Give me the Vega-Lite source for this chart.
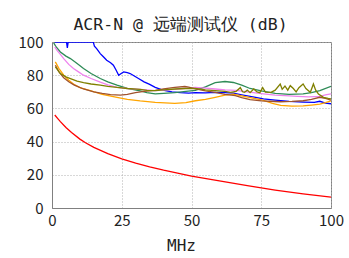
{
  "$schema": "https://vega.github.io/schema/vega-lite/v6.json",
  "autosize": {"type": "none"},
  "width": 279,
  "height": 166,
  "padding": {"left": 52, "top": 42, "right": 18, "bottom": 50},
  "background": "white",
  "title": {"text": "ACR-N @ 远端测试仪 (dB)", "font": "DejaVu Sans Mono", "fontSize": 16.5, "fontWeight": "normal", "color": "#222", "offset": 2, "dx": -11},
  "datasets": {
    "d": [
      {"s":"12-36","x":1,"y":100},{"s":"12-36","x":3,"y":100},{"s":"12-36","x":5.2,"y":100},{"s":"12-36","x":5.5,"y":96.5},{"s":"12-36","x":5.8,"y":100},{"s":"12-36","x":10,"y":100},{"s":"12-36","x":14.8,"y":100},{"s":"12-36","x":15.2,"y":97.5},{"s":"12-36","x":16,"y":96},{"s":"12-36","x":17.3,"y":93},{"s":"12-36","x":18.5,"y":91},{"s":"12-36","x":19.6,"y":89},{"s":"12-36","x":21,"y":87.5},{"s":"12-36","x":22,"y":86},{"s":"12-36","x":23,"y":83},{"s":"12-36","x":23.9,"y":80},{"s":"12-36","x":24.8,"y":81},{"s":"12-36","x":25.7,"y":82},{"s":"12-36","x":27,"y":81.5},{"s":"12-36","x":28,"y":81},{"s":"12-36","x":29.5,"y":79.5},{"s":"12-36","x":31,"y":78},{"s":"12-36","x":33,"y":76},{"s":"12-36","x":35,"y":74.5},{"s":"12-36","x":37,"y":72.7},{"s":"12-36","x":39,"y":71.5},{"s":"12-36","x":40.6,"y":70.7},{"s":"12-36","x":43,"y":70},{"s":"12-36","x":46,"y":69.5},{"s":"12-36","x":49,"y":69.2},{"s":"12-36","x":51.4,"y":69.5},{"s":"12-36","x":55,"y":69.4},{"s":"12-36","x":58.5,"y":69.7},{"s":"12-36","x":62,"y":69.5},{"s":"12-36","x":65,"y":69.2},{"s":"12-36","x":68,"y":68.2},{"s":"12-36","x":72,"y":67},{"s":"12-36","x":75.8,"y":65.8},{"s":"12-36","x":80,"y":65},{"s":"12-36","x":85,"y":64.2},{"s":"12-36","x":90,"y":63.8},{"s":"12-36","x":94,"y":63.6},{"s":"12-36","x":96,"y":64.3},{"s":"12-36","x":98,"y":63.2},{"s":"12-36","x":100,"y":62.8},
      {"s":"12-45","x":0.6,"y":99.5},{"s":"12-45","x":1.5,"y":97},{"s":"12-45","x":3,"y":94},{"s":"12-45","x":5,"y":91.5},{"s":"12-45","x":6.6,"y":90},{"s":"12-45","x":9,"y":87},{"s":"12-45","x":11.3,"y":84},{"s":"12-45","x":14,"y":81},{"s":"12-45","x":17.3,"y":78},{"s":"12-45","x":20,"y":76},{"s":"12-45","x":23.3,"y":74},{"s":"12-45","x":27,"y":72},{"s":"12-45","x":31.6,"y":70.5},{"s":"12-45","x":34,"y":69.5},{"s":"12-45","x":37,"y":68.7},{"s":"12-45","x":40,"y":69},{"s":"12-45","x":44,"y":69.5},{"s":"12-45","x":48,"y":70.2},{"s":"12-45","x":51.4,"y":70.8},{"s":"12-45","x":55,"y":73},{"s":"12-45","x":58.5,"y":75.5},{"s":"12-45","x":62,"y":76.2},{"s":"12-45","x":65,"y":75.6},{"s":"12-45","x":68,"y":74},{"s":"12-45","x":71,"y":72},{"s":"12-45","x":75,"y":70.5},{"s":"12-45","x":80,"y":69},{"s":"12-45","x":85,"y":68.5},{"s":"12-45","x":90,"y":68.7},{"s":"12-45","x":93,"y":69.5},{"s":"12-45","x":96,"y":70.7},{"s":"12-45","x":100,"y":73.3},
      {"s":"12-78","x":1,"y":97},{"s":"12-78","x":1.8,"y":95},{"s":"12-78","x":3,"y":92.5},{"s":"12-78","x":4.2,"y":90},{"s":"12-78","x":6,"y":86.5},{"s":"12-78","x":7.7,"y":84},{"s":"12-78","x":9.5,"y":82},{"s":"12-78","x":11.3,"y":80},{"s":"12-78","x":14,"y":78},{"s":"12-78","x":17.3,"y":75.8},{"s":"12-78","x":20,"y":74.2},{"s":"12-78","x":23.3,"y":72.7},{"s":"12-78","x":27,"y":72},{"s":"12-78","x":31.6,"y":71.5},{"s":"12-78","x":37,"y":70.7},{"s":"12-78","x":44,"y":71.5},{"s":"12-78","x":51.4,"y":72.7},{"s":"12-78","x":55,"y":72.2},{"s":"12-78","x":58.5,"y":71.7},{"s":"12-78","x":62,"y":71.2},{"s":"12-78","x":66,"y":70.8},{"s":"12-78","x":70,"y":70},{"s":"12-78","x":75.8,"y":68.8},{"s":"12-78","x":80,"y":68},{"s":"12-78","x":85,"y":67.5},{"s":"12-78","x":88,"y":67.3},{"s":"12-78","x":92,"y":67},{"s":"12-78","x":96,"y":67.3},{"s":"12-78","x":98,"y":68.2},{"s":"12-78","x":100,"y":68.7},
      {"s":"36-45","x":1.2,"y":88},{"s":"36-45","x":2.5,"y":84},{"s":"36-45","x":4.2,"y":80},{"s":"36-45","x":6,"y":77},{"s":"36-45","x":7.7,"y":74.7},{"s":"36-45","x":10,"y":72.5},{"s":"36-45","x":13.7,"y":70.7},{"s":"36-45","x":18,"y":68.5},{"s":"36-45","x":23.3,"y":66.7},{"s":"36-45","x":27,"y":65.5},{"s":"36-45","x":31.6,"y":64.5},{"s":"36-45","x":37,"y":63.6},{"s":"36-45","x":44,"y":63},{"s":"36-45","x":48,"y":63.5},{"s":"36-45","x":51.4,"y":64.6},{"s":"36-45","x":55,"y":65.5},{"s":"36-45","x":58.5,"y":66.7},{"s":"36-45","x":62,"y":68},{"s":"36-45","x":65,"y":68.6},{"s":"36-45","x":68,"y":67.6},{"s":"36-45","x":72,"y":66.2},{"s":"36-45","x":75.8,"y":64.8},{"s":"36-45","x":79,"y":63},{"s":"36-45","x":82,"y":61.8},{"s":"36-45","x":86,"y":61.4},{"s":"36-45","x":90,"y":61.5},{"s":"36-45","x":93,"y":62},{"s":"36-45","x":96,"y":62.6},{"s":"36-45","x":98,"y":63.5},{"s":"36-45","x":100,"y":64.5},
      {"s":"36-78","x":1.2,"y":86},{"s":"36-78","x":2.5,"y":82},{"s":"36-78","x":4.2,"y":78.5},{"s":"36-78","x":6,"y":76},{"s":"36-78","x":8,"y":74},{"s":"36-78","x":11.3,"y":71.7},{"s":"36-78","x":15,"y":70},{"s":"36-78","x":18,"y":69},{"s":"36-78","x":21,"y":68.3},{"s":"36-78","x":24.5,"y":68},{"s":"36-78","x":27,"y":68.5},{"s":"36-78","x":29.9,"y":69.5},{"s":"36-78","x":33,"y":70.2},{"s":"36-78","x":37,"y":70.8},{"s":"36-78","x":40,"y":71.8},{"s":"36-78","x":44,"y":72.7},{"s":"36-78","x":47.6,"y":73.2},{"s":"36-78","x":49,"y":72.8},{"s":"36-78","x":51.4,"y":71.7},{"s":"36-78","x":55,"y":70.5},{"s":"36-78","x":58.5,"y":69.7},{"s":"36-78","x":62,"y":68.5},{"s":"36-78","x":65.7,"y":67.7},{"s":"36-78","x":68,"y":66.5},{"s":"36-78","x":71,"y":65.3},{"s":"36-78","x":75,"y":64.5},{"s":"36-78","x":78,"y":64.3},{"s":"36-78","x":81.8,"y":64},{"s":"36-78","x":86,"y":64.2},{"s":"36-78","x":90,"y":64.6},{"s":"36-78","x":93,"y":65.5},{"s":"36-78","x":96,"y":66.7},{"s":"36-78","x":98,"y":66},{"s":"36-78","x":100,"y":65},
      {"s":"45-78","x":1.2,"y":85},{"s":"45-78","x":3,"y":81},{"s":"45-78","x":5,"y":79},{"s":"45-78","x":6.6,"y":78},{"s":"45-78","x":9,"y":76.5},{"s":"45-78","x":11.3,"y":75.5},{"s":"45-78","x":14,"y":74.7},{"s":"45-78","x":17.3,"y":74},{"s":"45-78","x":20,"y":73.3},{"s":"45-78","x":23.3,"y":72.7},{"s":"45-78","x":27,"y":72},{"s":"45-78","x":31.6,"y":71.5},{"s":"45-78","x":34,"y":70.8},{"s":"45-78","x":37,"y":70.7},{"s":"45-78","x":40,"y":71.2},{"s":"45-78","x":44,"y":71.7},{"s":"45-78","x":48,"y":72},{"s":"45-78","x":51.4,"y":72},{"s":"45-78","x":55,"y":71.2},{"s":"45-78","x":58.5,"y":70.7},{"s":"45-78","x":62,"y":70.2},{"s":"45-78","x":64,"y":69.7},{"s":"45-78","x":66,"y":70.3},{"s":"45-78","x":67.5,"y":72.5},{"s":"45-78","x":68.3,"y":70},{"s":"45-78","x":69,"y":69.7},{"s":"45-78","x":70,"y":71},{"s":"45-78","x":71,"y":69.5},{"s":"45-78","x":72.3,"y":71.7},{"s":"45-78","x":73.5,"y":70},{"s":"45-78","x":74.5,"y":69.5},{"s":"45-78","x":75.5,"y":72.5},{"s":"45-78","x":76.5,"y":69.8},{"s":"45-78","x":78.5,"y":69.7},{"s":"45-78","x":80,"y":71},{"s":"45-78","x":81.8,"y":74.7},{"s":"45-78","x":82.5,"y":71.5},{"s":"45-78","x":83.5,"y":73.5},{"s":"45-78","x":84.5,"y":71},{"s":"45-78","x":85.4,"y":73.7},{"s":"45-78","x":86.5,"y":72},{"s":"45-78","x":87.5,"y":70},{"s":"45-78","x":88.5,"y":72.5},{"s":"45-78","x":90,"y":74.7},{"s":"45-78","x":91,"y":72},{"s":"45-78","x":92.6,"y":69.7},{"s":"45-78","x":93.7,"y":74.7},{"s":"45-78","x":94.5,"y":71},{"s":"45-78","x":95.5,"y":68.7},{"s":"45-78","x":97.3,"y":66.7},{"s":"45-78","x":99,"y":66},{"s":"45-78","x":100,"y":65.7},
      {"s":"limit","x":1,"y":56},{"s":"limit","x":2,"y":54},{"s":"limit","x":3,"y":52},{"s":"limit","x":5,"y":48.5},{"s":"limit","x":7,"y":45.5},{"s":"limit","x":10,"y":41.5},{"s":"limit","x":12,"y":39.3},{"s":"limit","x":15,"y":36.5},{"s":"limit","x":20,"y":32.8},{"s":"limit","x":25,"y":29.6},{"s":"limit","x":30,"y":27},{"s":"limit","x":35,"y":24.8},{"s":"limit","x":40,"y":22.8},{"s":"limit","x":45,"y":21},{"s":"limit","x":50,"y":19.2},{"s":"limit","x":60,"y":16.3},{"s":"limit","x":70,"y":13.5},{"s":"limit","x":75,"y":12.1},{"s":"limit","x":80,"y":10.8},{"s":"limit","x":90,"y":8.5},{"s":"limit","x":100,"y":6.5}
    ]
  },
  "data": {"name": "d"},
  "mark": {"type": "line", "strokeWidth": 1.3, "clip": true, "interpolate": "linear"},
  "encoding": {
    "x": {"field": "x", "type": "quantitative", "scale": {"domain": [0, 100], "nice": false}, "title": "MHz",
      "axis": {"values": [0, 25, 50, 75, 100], "ticks": false, "domainColor": "#808080", "labelFont": "Noto Sans CJK SC", "labelFontSize": 15, "labelColor": "#222", "labelPadding": 5, "labelFlush": false, "gridColor": "#b0b0b0", "gridDash": [1, 2], "titleFont": "DejaVu Sans Mono", "titleFontSize": 16, "titleFontWeight": "normal", "titleColor": "#222", "titlePadding": 9, "titleX": 129}},
    "y": {"field": "y", "type": "quantitative", "scale": {"domain": [0, 100], "nice": false}, "title": null,
      "axis": {"values": [0, 20, 40, 60, 80, 100], "ticks": false, "domainColor": "#808080", "labelFont": "Noto Sans CJK SC", "labelFontSize": 15, "labelColor": "#222", "labelPadding": 9, "labelFlush": false, "gridColor": "#b0b0b0", "gridDash": [1, 2]}},
    "color": {"field": "s", "type": "nominal", "legend": null,
      "scale": {"domain": ["12-36", "12-45", "12-78", "36-45", "36-78", "45-78", "limit"], "range": ["#0000ff", "#2e8b57", "#ee82ee", "#ffa500", "#a0522d", "#808000", "#ff0000"]}},
    "order": {"field": "x", "type": "quantitative"}
  },
  "config": {"view": {"stroke": "#808080", "strokeWidth": 1}}
}
